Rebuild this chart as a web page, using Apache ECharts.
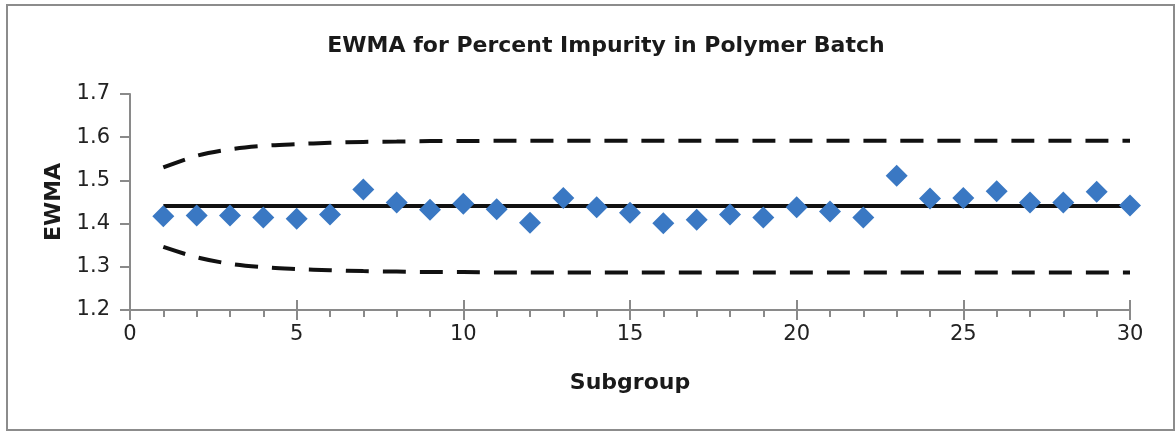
<!DOCTYPE html>
<html>
<head>
<meta charset="utf-8">
<script src="https://cdn.jsdelivr.net/npm/echarts@6/dist/echarts.min.js"></script>
<style>
  html, body { margin: 0; padding: 0; background: #fff; }
  #chart { width: 1176px; height: 431px; }
</style>
</head>
<body>
<div id="chart"></div>
<script>
// subgroup numbers
const subgroups = [1, 2, 3, 4, 5, 6, 7, 8, 9, 10, 11, 12, 13, 14, 15,
  16, 17, 18, 19, 20, 21, 22, 23, 24, 25, 26, 27, 28, 29, 30];
// EWMA values
const ewma = [1.417, 1.419, 1.419, 1.414, 1.411, 1.421, 1.479, 1.449, 1.432, 1.446,
  1.433, 1.402, 1.459, 1.438, 1.425, 1.401, 1.409, 1.421, 1.414, 1.438,
  1.428, 1.414, 1.511, 1.458, 1.459, 1.475, 1.449, 1.449, 1.474, 1.442];
// control limits
const ucl = [1.530, 1.557, 1.572, 1.580, 1.584, 1.587, 1.589, 1.590, 1.591, 1.591,
  1.592, 1.592, 1.592, 1.592, 1.592, 1.592, 1.592, 1.592, 1.592, 1.592,
  1.592, 1.592, 1.592, 1.592, 1.592, 1.592, 1.592, 1.592, 1.592, 1.592];
const lcl = [1.346, 1.322, 1.307, 1.299, 1.295, 1.292, 1.290, 1.289, 1.288, 1.288,
  1.287, 1.287, 1.287, 1.287, 1.287, 1.287, 1.287, 1.287, 1.287, 1.287,
  1.287, 1.287, 1.287, 1.287, 1.287, 1.287, 1.287, 1.287, 1.287, 1.287];
const centerLine = [1.441, 1.441];
const centerX = [1, 30];

const pairs = (xs, ys) => xs.map((x, i) => [x, ys[i]]);

const axisGray = '#8a8a8a';
const font = "'DejaVu Sans', Verdana, sans-serif";

const chart = echarts.init(document.getElementById('chart'));

const option = {
  animation: false,
  graphic: [
    {
      type: 'rect',
      shape: { x: 7, y: 5, width: 1167, height: 425 },
      style: { fill: 'none', stroke: '#8c8c8c', lineWidth: 2 },
      silent: true
    }
  ],
  title: {
    text: 'EWMA for Percent Impurity in Polymer Batch',
    left: 601,
    top: 30,
    textAlign: 'center',
    textStyle: { fontFamily: font, fontSize: 22, fontWeight: 'bold', color: '#1a1a1a' }
  },
  grid: { left: 130, right: 46, top: 94, bottom: 121 },
  xAxis: [
    {
      type: 'value',
      min: 0,
      max: 30,
      interval: 5,
      name: 'Subgroup',
      nameLocation: 'middle',
      nameGap: 62,
      nameTextStyle: { fontFamily: font, fontSize: 22, fontWeight: 'bold', color: '#1a1a1a' },
      axisLine: { lineStyle: { color: axisGray, width: 2 } },
      axisTick: { show: true, length: 10, lineStyle: { color: axisGray, width: 2 } },
      minorTick: { show: true, splitNumber: 5, length: 7, lineStyle: { color: axisGray, width: 2 } },
      axisLabel: { fontFamily: font, fontSize: 21, color: '#222', margin: 14 },
      splitLine: { show: false }
    },
    {
      type: 'value',
      min: 0,
      max: 30,
      interval: 5,
      position: 'bottom',
      axisLine: { show: false },
      axisTick: { show: true, inside: true, length: 10, lineStyle: { color: axisGray, width: 2 } },
      axisLabel: { show: false },
      splitLine: { show: false }
    }
  ],
  yAxis: {
    type: 'value',
    min: 1.2,
    max: 1.7,
    interval: 0.1,
    name: 'EWMA',
    nameLocation: 'middle',
    nameGap: 64,
    nameRotate: 90,
    nameTextStyle: { fontFamily: font, fontSize: 22, fontWeight: 'bold', color: '#1a1a1a' },
    axisLine: { show: true, lineStyle: { color: axisGray, width: 2 } },
    axisTick: { show: true, length: 10, lineStyle: { color: axisGray, width: 2 } },
    axisLabel: {
      fontFamily: font, fontSize: 21, color: '#222', margin: 20,
      formatter: v => v.toFixed(1)
    },
    splitLine: { show: false }
  },
  series: [
    {
      name: 'UCL',
      type: 'line',
      data: pairs(subgroups, ucl),
      showSymbol: false,
      smooth: 0.3,
      lineStyle: { color: '#111', width: 4, type: [23, 14] },
      z: 2
    },
    {
      name: 'LCL',
      type: 'line',
      data: pairs(subgroups, lcl),
      showSymbol: false,
      smooth: 0.3,
      lineStyle: { color: '#111', width: 4, type: [23, 14] },
      z: 2
    },
    {
      name: 'Center',
      type: 'line',
      data: pairs(centerX, centerLine),
      showSymbol: false,
      lineStyle: { color: '#111', width: 4 },
      z: 2
    },
    {
      name: 'EWMA',
      type: 'scatter',
      data: pairs(subgroups, ewma),
      symbol: 'diamond',
      symbolSize: 22,
      itemStyle: { color: '#3a78c3', opacity: 1 },
      z: 3
    }
  ]
};

chart.setOption(option);
</script>
</body>
</html>
